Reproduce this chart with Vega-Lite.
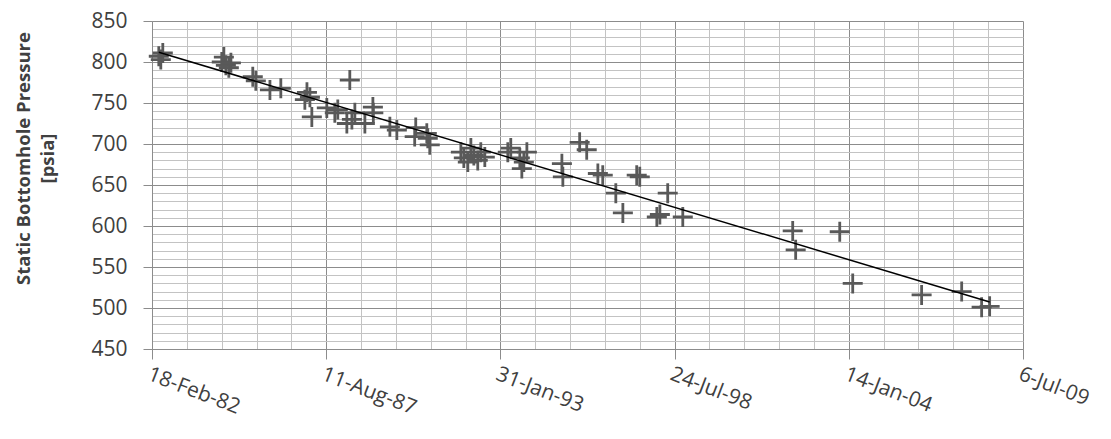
{
  "$schema": "https://vega.github.io/schema/vega-lite/v6.json",
  "width": 871,
  "height": 328,
  "autosize": {"type": "none"},
  "padding": {"left": 152, "top": 21, "right": 88, "bottom": 90},
  "background": "white",
  "config": {"view": {"stroke": null}, "font": "Open Sans"},
  "data": {
    "values": [
      {"date": "1982-05-07", "psi": 807},
      {"date": "1982-05-30", "psi": 803},
      {"date": "1982-06-22", "psi": 811},
      {"date": "1984-04-29", "psi": 800},
      {"date": "1984-05-23", "psi": 806},
      {"date": "1984-06-15", "psi": 796},
      {"date": "1984-07-19", "psi": 793},
      {"date": "1984-08-12", "psi": 799},
      {"date": "1985-04-20", "psi": 782},
      {"date": "1985-05-25", "psi": 777},
      {"date": "1985-11-03", "psi": 766},
      {"date": "1986-03-08", "psi": 768},
      {"date": "1986-12-09", "psi": 754},
      {"date": "1987-01-02", "psi": 763},
      {"date": "1987-02-05", "psi": 757},
      {"date": "1987-02-27", "psi": 733},
      {"date": "1987-08-18", "psi": 744},
      {"date": "1987-11-18", "psi": 738},
      {"date": "1987-12-22", "psi": 742},
      {"date": "1988-05-08", "psi": 778},
      {"date": "1988-04-04", "psi": 725},
      {"date": "1988-07-05", "psi": 738},
      {"date": "1988-06-01", "psi": 730},
      {"date": "1988-10-28", "psi": 725},
      {"date": "1989-01-28", "psi": 745},
      {"date": "1989-02-02", "psi": 738},
      {"date": "1989-08-11", "psi": 721},
      {"date": "1989-10-30", "psi": 717},
      {"date": "1990-05-23", "psi": 709},
      {"date": "1990-06-04", "psi": 720},
      {"date": "1990-10-20", "psi": 707},
      {"date": "1990-11-12", "psi": 699},
      {"date": "1990-10-09", "psi": 713},
      {"date": "1991-11-04", "psi": 690},
      {"date": "1991-12-08", "psi": 683},
      {"date": "1992-01-23", "psi": 678},
      {"date": "1992-02-27", "psi": 695},
      {"date": "1992-04-01", "psi": 686},
      {"date": "1992-05-16", "psi": 680},
      {"date": "1992-06-20", "psi": 690},
      {"date": "1992-08-05", "psi": 684},
      {"date": "1993-04-26", "psi": 690},
      {"date": "1993-05-30", "psi": 695},
      {"date": "1993-09-11", "psi": 683},
      {"date": "1993-10-04", "psi": 670},
      {"date": "1993-12-01", "psi": 690},
      {"date": "1993-10-27", "psi": 678},
      {"date": "1995-01-07", "psi": 676},
      {"date": "1995-01-18", "psi": 660},
      {"date": "1995-07-30", "psi": 702},
      {"date": "1995-10-19", "psi": 693},
      {"date": "1996-02-24", "psi": 664},
      {"date": "1996-04-20", "psi": 662},
      {"date": "1996-09-17", "psi": 640},
      {"date": "1996-12-07", "psi": 616},
      {"date": "1997-05-15", "psi": 662},
      {"date": "1997-06-19", "psi": 660},
      {"date": "1998-01-01", "psi": 611},
      {"date": "1998-02-05", "psi": 614},
      {"date": "1998-05-06", "psi": 640},
      {"date": "1998-10-26", "psi": 611},
      {"date": "2002-04-10", "psi": 594},
      {"date": "2002-05-14", "psi": 571},
      {"date": "2003-10-02", "psi": 593},
      {"date": "2004-02-28", "psi": 530},
      {"date": "2006-04-29", "psi": 516},
      {"date": "2007-08-02", "psi": 520},
      {"date": "2008-03-18", "psi": 501},
      {"date": "2008-06-18", "psi": 502}
    ]
  },
  "encoding": {
    "x": {
      "field": "date",
      "type": "temporal",
      "scale": {"type": "utc", "domain": [382838400000, 1246838400000], "nice": false},
      "axis": {
        "title": null,
        "values": [382838400000, 417398400000, 451958400000, 486518400000, 521078400000, 555638400000, 590198400000, 624758400000, 659318400000, 693878400000, 728438400000, 762998400000, 797558400000, 832118400000, 866678400000, 901238400000, 935798400000, 970358400000, 1004918400000, 1039478400000, 1074038400000, 1108598400000, 1143158400000, 1177718400000, 1212278400000, 1246838400000],
        "labelExpr": "round((datum.value - 382838400000) / 86400000) % 2000 === 0 ? utcFormat(datum.value, '%-d-%b-%y') : ''",
        "labelOverlap": false,
        "labelFlush": false,
        "labelBound": false,
        "labelAngle": 21,
        "labelAlign": "left",
        "labelBaseline": "top",
        "labelPadding": 4,
        "labelFontSize": 21,
        "labelColor": "#404040",
        "labelFont": "Open Sans",
        "grid": true,
        "gridColor": {"condition": {"test": "round((datum.value - 382838400000) / 86400000) % 2000 === 0", "value": "#8c8c8c"}, "value": "#c3c3c3"},
        "gridWidth": 1,
        "ticks": true,
        "tickSize": 10,
        "tickColor": "#8c8c8c",
        "tickOpacity": {"condition": {"test": "round((datum.value - 382838400000) / 86400000) % 2000 === 0", "value": 1}, "value": 0},
        "domain": true,
        "domainColor": "#8c8c8c"
      }
    },
    "y": {
      "field": "psi",
      "type": "quantitative",
      "scale": {"domain": [450, 850], "nice": false, "zero": false},
      "axis": {
        "title": ["Static Bottomhole Pressure", "[psia]"],
        "titleFont": "Open Sans",
        "titleFontSize": 18.5,
        "titleFontWeight": "bold",
        "titleColor": "#404040",
        "titleLineHeight": 24,
        "titleAngle": -90,
        "titleAlign": "center",
        "titleBaseline": "middle",
        "titleX": -129,
        "titleY": 137,
        "values": [450, 460, 470, 480, 490, 500, 510, 520, 530, 540, 550, 560, 570, 580, 590, 600, 610, 620, 630, 640, 650, 660, 670, 680, 690, 700, 710, 720, 730, 740, 750, 760, 770, 780, 790, 800, 810, 820, 830, 840, 850],
        "labelExpr": "datum.value % 50 === 0 ? datum.label : ''",
        "labelOverlap": false,
        "labelFontSize": 21,
        "labelColor": "#404040",
        "labelFont": "Open Sans",
        "labelPadding": 16,
        "labelBound": false,
        "labelFlush": false,
        "grid": true,
        "gridColor": {"condition": {"test": "datum.value % 50 === 0", "value": "#8c8c8c"}, "value": "#c3c3c3"},
        "gridWidth": 1,
        "tickSize": 9,
        "tickColor": "#8c8c8c",
        "tickOpacity": {"condition": {"test": "datum.value % 50 === 0", "value": 1}, "value": 0},
        "domain": true,
        "domainColor": "#8c8c8c"
      }
    }
  },
  "layer": [
    {
      "mark": {"type": "point", "shape": "M-1,0L1,0M0,-1L0,1", "filled": false, "size": 400, "strokeWidth": 2.8, "color": "#595959", "opacity": 1}
    },
    {
      "transform": [{"regression": "psi", "on": "date"}],
      "mark": {"type": "line", "color": "#000000", "strokeWidth": 1.5}
    }
  ]
}
